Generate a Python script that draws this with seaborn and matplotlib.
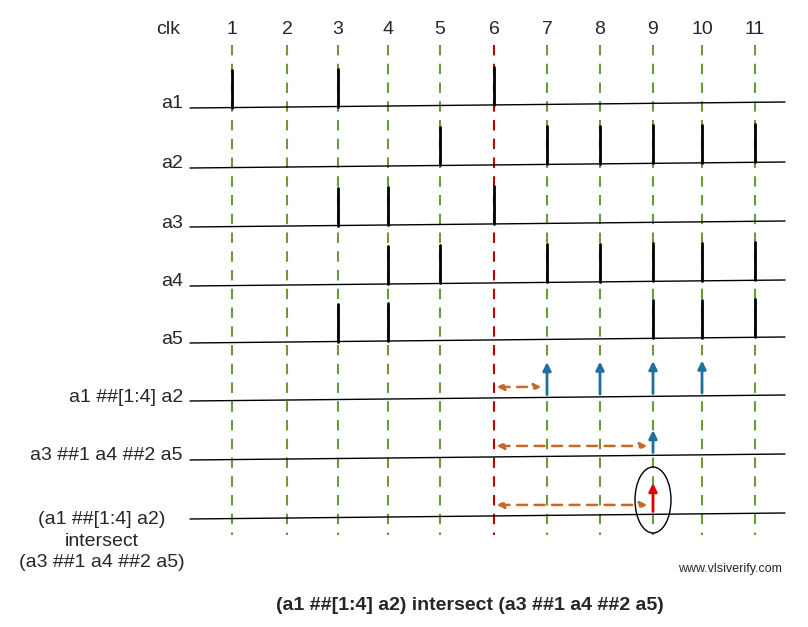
import numpy as np
import pandas as pd
import matplotlib
matplotlib.use('Agg')
import matplotlib.pyplot as plt
from matplotlib.patches import Ellipse
import seaborn as sns

# clock numbers and where their dashed guide sits (pixel columns of the drawing)
clk_ticks = [1, 2, 3, 4, 5, 6, 7, 8, 9, 10, 11]
clk_pos = [232, 287, 338, 388, 440, 494, 547, 600, 653, 702, 755]

signal_names = ["a1", "a2", "a3", "a4", "a5",
                "a1 ##[1:4] a2", "a3 ##1 a4 ##2 a5",
                "(a1 ##[1:4] a2)\nintersect\n(a3 ##1 a4 ##2 a5)"]
# clocks at which each signal is high
signal_pulses = [[1, 3, 6], [5, 7, 8, 9, 10, 11], [3, 4, 6], [4, 5, 7, 8, 9, 10, 11],
                 [3, 4, 9, 10, 11], [7, 8, 9, 10], [9], [9]]
# matches measured from clock 6 (start) to end clock
match_spans = {5: (6, 7), 6: (6, 9), 7: (6, 9)}

row_y = [108, 168, 227, 286, 343, 401, 460, 519]
x0, x1 = 190, 785
tilt = -6.0 / (x1 - x0)

sns.set_style("white")
plt.rcParams['font.family'] = ['Liberation Sans', 'DejaVu Sans']

fig = plt.figure(figsize=(8.08, 6.27), dpi=100)
ax = fig.add_axes([0, 0, 1, 1])
ax.set_xlim(0, 808)
ax.set_ylim(627, 0)
ax.axis('off')

def base(y, x):
    return y + (x - x0) * tilt

# clock guides
for c, x in zip(clk_ticks, clk_pos):
    col = '#c00000' if c == 6 else '#6a9a3a'
    ax.plot([x, x], [45, 535], ls=(0, (5, 4)), color=col, lw=1.5, zorder=1)
    ax.text(x, 30, str(c), ha='center', va='center', fontsize=14)
ax.text(168, 30, "clk", ha='center', va='center', fontsize=14)

for i, (name, pulses, y) in enumerate(zip(signal_names, signal_pulses, row_y)):
    df = pd.DataFrame({'x': [x0, x1], 'y': [base(y, x0), base(y, x1)]})
    sns.lineplot(data=df, x='x', y='y', color='black', lw=1, ax=ax, zorder=2)
    if i < 7:
        ax.text(183, y - 4, name, ha='right', va='center', fontsize=14)
    else:
        ax.text(102, y + 22, name, ha='center', va='center', fontsize=14, linespacing=1.35)
    for c in pulses:
        x = clk_pos[c - 1]
        yb = base(y, x)
        if i < 5:
            ax.plot([x, x], [yb, yb - 38], color='black', lw=2, zorder=3)
        else:
            col = '#e00000' if i == 7 else '#1f6f9f'
            h = 28 if i == 6 else 38
            if i == 7:
                h = 34
            ax.annotate('', xy=(x, yb - h), xytext=(x, yb),
                        arrowprops=dict(arrowstyle='-|>', color=col, lw=2,
                                        mutation_scale=12), zorder=4)
    if i in match_spans:
        s, e = match_spans[i]
        xs, xe = clk_pos[s - 1], clk_pos[e - 1] - 3
        ya = base(y, xs) - 11
        ax.annotate('', xy=(xe, ya), xytext=(xs, ya),
                    arrowprops=dict(arrowstyle='<|-|>', color='#c8692a', lw=1.8,
                                    ls=(0, (4, 3)), mutation_scale=10), zorder=4)

ax.add_patch(Ellipse((653, 500), 36, 66, fill=False, ec='black', lw=1, zorder=5))

ax.text(730, 569, "www.vlsiverify.com", ha='center', va='center', fontsize=9)
ax.text(470, 606, "(a1 ##[1:4] a2) intersect (a3 ##1 a4 ##2 a5)",
        ha='center', va='center', fontsize=14, fontweight='bold')

fig.savefig('out.png', dpi=100)
